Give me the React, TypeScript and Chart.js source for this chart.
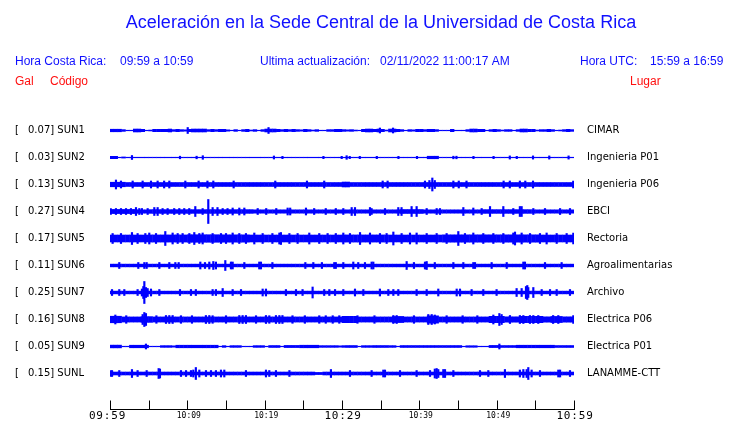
import React, { useEffect, useRef } from "react";
import { Chart, registerables } from "chart.js";

Chart.register(...registerables);

// ---------------- data ----------------
const STATIONS = ["SUN1", "SUN2", "SUN3", "SUN4", "SUN5", "SUN6", "SUN7", "SUN8", "SUN9", "SUNL"];
const PEAKS = ["0.07", "0.03", "0.13", "0.27", "0.17", "0.11", "0.25", "0.16", "0.05", "0.15"];
const PLACES = [
  "CIMAR", "Ingenieria P01", "Ingenieria P06", "EBCI", "Rectoria",
  "Agroalimentarias", "Archivo", "Electrica P06", "Electrica P01", "LANAMME-CTT",
];
const TICK_MINUTES = [0, 5, 10, 15, 20, 25, 30, 35, 40, 45, 50, 55, 60];
const TICK_LABELS = ["09:59", "", "10:09", "", "10:19", "", "10:29", "", "10:39", "", "10:49", "", "10:59"];
const MAJOR_LABELS = ["09:59", "10:29", "10:59"];

// envelope half-amplitude per 30 s bin (120 bins over 60 minutes)
const BAND_SUN1 = [
  1.6, 1.6, 1.6, 1.2, 0.6, 0.6, 1.8, 1.8, 1.5, 0.6, 0.8, 1.5, 1.5, 1.5, 1.5, 1.8, 1.2, 1.5, 1.2, 1.0,
  1.5, 1.8, 1.8, 1.8, 1.8, 1.2, 1.5, 1.2, 1.5, 1.5, 1.0, 0.6, 1.2, 0.6, 1.2, 1.5, 0.8, 1.2, 0.6, 1.2,
  1.8, 1.8, 1.8, 1.5, 1.2, 1.5, 1.2, 1.5, 1.2, 1.0, 1.5, 1.2, 0.8, 1.2, 0.6, 0.6, 1.2, 1.2, 1.5, 1.5,
  1.2, 1.0, 1.2, 0.8, 0.6, 1.5, 1.8, 1.8, 1.5, 1.8, 1.5, 0.8, 1.8, 1.8, 1.5, 1.2, 0.6, 1.2, 1.0, 1.5,
  1.5, 1.2, 1.5, 1.5, 1.2, 0.6, 0.6, 0.6, 1.5, 0.6, 0.6, 0.6, 1.2, 1.8, 1.8, 1.5, 1.5, 0.6, 1.2, 1.5,
  1.2, 0.8, 1.2, 1.2, 0.6, 1.2, 1.8, 1.8, 1.5, 1.5, 0.8, 1.2, 1.2, 1.5, 1.2, 0.6, 0.8, 1.2, 1.5, 1.2,
];
const BAND_SUN2 = [
  1.5, 1.5, 0.6, 0.9, 0.6, 0.6, 0.6, 0.6, 0.6, 0.6, 0.6, 0.6, 0.6, 0.6, 0.6, 0.6, 0.6, 0.6, 0.6, 0.6,
  0.6, 0.6, 0.6, 0.6, 0.6, 0.6, 0.6, 0.6, 0.6, 0.6, 0.6, 0.6, 0.6, 0.6, 0.6, 0.6, 0.6, 0.6, 0.6, 0.6,
  0.6, 0.6, 0.6, 0.6, 0.6, 0.6, 0.6, 0.6, 0.6, 0.6, 0.6, 0.6, 0.6, 0.6, 0.6, 0.6, 0.6, 0.6, 0.6, 0.6,
  0.6, 0.6, 0.6, 0.6, 0.6, 0.6, 0.6, 0.6, 0.6, 0.6, 0.6, 0.6, 0.6, 0.6, 0.6, 0.6, 0.6, 0.6, 0.6, 0.6,
  0.6, 0.6, 1.6, 1.6, 1.6, 0.6, 0.6, 0.6, 0.6, 0.6, 0.6, 0.6, 0.6, 0.6, 0.6, 0.6, 0.6, 0.6, 0.6, 0.6,
  0.6, 0.6, 0.6, 0.6, 0.6, 0.6, 0.6, 0.6, 0.6, 0.6, 0.6, 0.6, 0.6, 0.6, 0.6, 0.6, 0.6, 0.6, 0.6, 0.6,
];
const BAND_SUN3 = [
  2.6, 2.6, 2.6, 2.6, 2.3, 2.3, 2.3, 2.3, 2.3, 2.3, 2.3, 2.3, 2.3, 2.3, 2.3, 2.3, 2.3, 2.3, 2.3, 2.3,
  2.3, 2.3, 2.3, 2.3, 2.3, 2.3, 2.3, 2.3, 2.3, 2.3, 2.3, 2.3, 2.3, 2.3, 2.3, 2.3, 2.3, 2.3, 2.3, 2.3,
  2.3, 2.3, 2.3, 2.3, 2.3, 2.3, 2.3, 2.3, 2.3, 2.3, 2.3, 2.3, 2.3, 2.3, 2.3, 2.3, 2.3, 2.3, 2.3, 2.3,
  2.8, 2.8, 2.3, 2.3, 2.3, 2.3, 2.3, 2.3, 2.3, 2.3, 2.3, 2.3, 2.3, 2.3, 2.3, 2.3, 2.3, 2.3, 2.3, 2.3,
  2.3, 2.3, 2.3, 2.3, 2.3, 2.3, 2.3, 2.3, 2.3, 2.3, 2.3, 2.3, 2.3, 2.3, 2.3, 2.3, 2.3, 2.3, 2.3, 2.3,
  2.3, 2.3, 2.3, 2.3, 2.3, 2.3, 2.3, 2.3, 2.3, 2.3, 2.3, 2.3, 2.3, 2.3, 2.3, 2.3, 2.3, 2.3, 2.3, 2.3,
];
const BAND_SUN4 = [
  2.4, 2.4, 2.4, 2.4, 2.4, 2.4, 2.4, 2.0, 2.0, 2.0, 2.2, 2.2, 2.2, 2.2, 2.2, 2.2, 2.2, 2.2, 2.2, 2.2,
  2.2, 2.2, 2.2, 2.2, 2.2, 2.2, 2.2, 2.2, 2.2, 2.2, 2.2, 2.2, 2.2, 2.2, 2.2, 2.2, 2.2, 2.0, 2.0, 2.0,
  2.0, 2.0, 2.0, 2.0, 2.0, 2.0, 2.0, 2.0, 2.0, 2.0, 2.0, 2.0, 2.0, 2.0, 2.0, 2.0, 2.0, 2.0, 2.0, 2.0,
  2.0, 2.0, 2.0, 2.0, 2.0, 2.0, 2.0, 2.0, 2.0, 2.0, 2.0, 2.0, 2.0, 2.0, 2.0, 2.3, 2.3, 2.3, 2.3, 2.3,
  2.3, 2.0, 2.0, 2.0, 2.0, 2.0, 2.0, 2.0, 2.0, 2.0, 2.0, 2.0, 2.0, 2.0, 2.0, 2.0, 2.2, 2.2, 2.2, 2.2,
  2.2, 2.2, 2.2, 2.2, 2.2, 2.2, 2.2, 2.2, 2.2, 2.0, 2.0, 2.0, 2.0, 2.0, 2.0, 2.0, 2.0, 2.0, 2.0, 2.0,
];
const BAND_SUN5 = [
  3.8, 3.8, 3.8, 3.8, 3.8, 3.8, 3.8, 3.8, 3.8, 3.8, 3.9, 3.9, 3.9, 3.9, 3.9, 3.9, 3.9, 3.9, 3.9, 3.9,
  4.1, 4.1, 4.1, 4.1, 4.1, 4.1, 4.1, 4.1, 4.0, 4.0, 4.0, 4.0, 4.0, 4.0, 4.0, 4.0, 3.8, 3.8, 3.8, 3.8,
  3.8, 3.8, 3.8, 3.8, 3.8, 3.8, 3.8, 3.8, 3.8, 3.8, 3.8, 3.8, 3.8, 3.8, 3.8, 3.8, 3.8, 3.8, 3.8, 3.8,
  3.9, 3.9, 3.9, 3.9, 3.9, 3.9, 3.9, 3.9, 3.9, 3.9, 3.9, 3.8, 3.8, 3.8, 3.8, 3.8, 3.8, 3.8, 3.8, 3.8,
  3.8, 3.8, 3.8, 3.8, 3.8, 3.8, 4.0, 4.0, 4.0, 4.0, 4.0, 4.0, 4.0, 4.0, 4.0, 4.0, 4.0, 4.0, 4.0, 4.0,
  4.0, 4.0, 4.0, 4.0, 4.0, 4.0, 4.0, 4.0, 4.0, 4.0, 4.0, 3.8, 3.8, 3.8, 3.8, 3.8, 3.8, 3.8, 3.8, 3.8,
];
const BAND_SUN6 = [
  1.7, 1.7, 1.7, 1.7, 1.7, 1.7, 1.7, 1.7, 1.7, 1.7, 1.7, 1.7, 1.7, 1.7, 1.7, 1.7, 1.7, 1.7, 1.7, 1.7,
  1.7, 1.7, 1.7, 1.7, 1.7, 1.7, 1.7, 1.7, 1.7, 1.7, 1.7, 1.7, 1.7, 1.7, 1.7, 1.7, 1.7, 1.7, 1.7, 1.7,
  1.7, 1.7, 1.7, 1.7, 1.7, 1.7, 1.7, 1.7, 1.7, 1.7, 1.7, 1.7, 1.7, 1.7, 1.7, 1.7, 1.7, 1.7, 1.7, 1.7,
  1.7, 1.7, 1.7, 1.7, 1.7, 1.7, 1.7, 1.7, 1.7, 1.7, 1.7, 1.7, 1.7, 1.7, 1.7, 1.7, 1.7, 1.7, 1.7, 1.7,
  1.7, 1.7, 1.7, 1.7, 1.7, 1.7, 1.7, 1.7, 1.7, 1.7, 1.7, 1.7, 1.7, 1.7, 1.7, 1.7, 1.7, 1.7, 1.7, 1.7,
  1.7, 1.7, 1.7, 1.7, 1.7, 1.7, 1.7, 1.7, 1.7, 1.7, 1.7, 1.7, 1.7, 1.7, 1.7, 1.7, 1.7, 1.7, 1.7, 1.7,
];
const BAND_SUN7 = [
  1.7, 1.7, 1.7, 1.7, 1.7, 1.7, 1.7, 1.7, 1.7, 1.7, 1.7, 1.7, 1.7, 1.7, 1.7, 1.7, 1.7, 1.7, 1.7, 1.7,
  1.7, 1.7, 1.7, 1.7, 1.7, 1.7, 1.7, 1.7, 1.7, 1.7, 1.7, 1.7, 1.7, 1.7, 1.7, 1.7, 1.7, 1.7, 1.7, 1.7,
  1.7, 1.7, 1.7, 1.7, 1.7, 1.7, 1.7, 1.7, 1.7, 1.7, 1.7, 1.7, 1.7, 1.7, 1.7, 1.7, 1.7, 1.7, 1.7, 1.7,
  1.7, 1.7, 1.7, 1.7, 1.7, 1.7, 1.7, 1.7, 1.7, 1.7, 1.7, 1.7, 1.7, 1.7, 1.7, 1.7, 1.7, 1.7, 1.7, 1.7,
  1.7, 1.7, 1.7, 1.7, 1.7, 1.7, 1.7, 1.7, 1.7, 1.7, 1.7, 1.7, 1.7, 1.7, 1.7, 1.7, 1.7, 1.7, 1.7, 1.7,
  1.7, 1.7, 1.7, 1.7, 1.7, 1.7, 1.7, 1.7, 1.7, 1.7, 1.7, 1.7, 1.7, 1.7, 1.7, 1.7, 1.7, 1.7, 1.7, 1.7,
];
const BAND_SUN8 = [
  3.6, 3.6, 3.6, 2.9, 2.9, 2.9, 2.9, 2.9, 3.2, 3.2, 3.2, 2.9, 2.9, 2.9, 2.9, 2.9, 2.9, 2.9, 2.9, 2.9,
  2.9, 2.9, 2.9, 2.9, 2.9, 2.9, 2.9, 2.9, 2.9, 2.9, 2.9, 2.9, 2.9, 2.9, 2.9, 2.9, 2.9, 2.9, 2.9, 2.9,
  2.9, 2.9, 2.9, 2.9, 2.9, 2.9, 2.9, 2.9, 2.9, 2.9, 2.9, 2.9, 2.9, 2.9, 2.9, 2.9, 2.9, 2.9, 2.9, 2.9,
  3.5, 3.5, 3.5, 3.5, 2.9, 2.9, 2.9, 2.9, 2.9, 2.9, 2.9, 2.9, 2.9, 3.4, 3.4, 3.4, 2.9, 2.9, 2.9, 2.9,
  2.9, 2.9, 4.0, 4.0, 4.0, 2.9, 2.9, 2.9, 2.9, 2.9, 2.9, 2.9, 2.9, 2.9, 2.9, 2.9, 2.9, 2.9, 3.5, 3.5,
  3.5, 3.5, 3.0, 3.0, 3.0, 3.0, 3.5, 3.5, 3.5, 3.5, 3.5, 3.5, 3.0, 3.0, 3.4, 3.4, 3.4, 3.0, 3.0, 3.0,
];
const BAND_SUN9 = [
  1.7, 1.7, 1.7, 0.6, 0.6, 1.6, 1.6, 1.6, 1.6, 1.6, 0.6, 0.6, 0.6, 1.2, 1.2, 1.2, 1.0, 1.6, 1.6, 1.6,
  1.6, 1.6, 1.6, 1.6, 1.6, 1.6, 1.6, 1.6, 0.6, 1.2, 0.6, 1.2, 1.2, 1.2, 0.6, 0.6, 0.6, 1.2, 1.2, 1.2,
  0.6, 1.3, 1.3, 1.3, 0.6, 1.4, 1.4, 1.4, 1.4, 1.6, 1.6, 1.6, 1.6, 1.6, 1.2, 1.2, 1.2, 1.2, 1.2, 1.0,
  1.2, 1.3, 1.3, 1.3, 0.6, 1.2, 1.2, 1.2, 1.3, 1.3, 1.3, 1.3, 1.2, 1.2, 0.6, 1.3, 1.3, 1.3, 1.3, 1.3,
  1.3, 1.3, 1.3, 1.3, 1.3, 1.3, 1.3, 1.3, 1.3, 1.3, 1.3, 0.6, 1.1, 1.1, 1.1, 0.6, 0.6, 0.6, 1.4, 1.4,
  1.4, 1.3, 1.3, 1.3, 1.3, 1.6, 1.6, 1.6, 1.6, 1.6, 1.6, 1.6, 1.6, 1.6, 1.6, 1.3, 1.3, 1.3, 1.3, 1.3,
];
const BAND_SUNL = [
  1.8, 1.8, 1.8, 1.8, 1.8, 1.8, 1.8, 1.8, 1.8, 1.8, 1.8, 1.8, 1.8, 1.8, 1.8, 1.8, 1.8, 1.8, 1.8, 1.8,
  1.8, 1.8, 1.8, 1.8, 1.8, 1.8, 1.8, 1.8, 1.8, 1.8, 1.8, 1.8, 1.8, 1.8, 1.8, 1.8, 1.8, 1.8, 1.8, 1.8,
  1.8, 1.8, 1.8, 1.8, 1.8, 1.8, 1.8, 1.8, 1.8, 1.8, 1.8, 1.8, 1.8, 1.4, 1.4, 1.8, 1.8, 1.8, 1.8, 1.8,
  1.8, 1.8, 1.8, 1.8, 1.8, 1.8, 1.8, 1.8, 1.8, 1.8, 1.8, 1.8, 1.8, 1.8, 1.8, 1.8, 1.8, 1.8, 1.8, 1.8,
  1.8, 1.8, 1.8, 1.8, 1.8, 1.8, 1.8, 1.8, 1.8, 1.8, 1.8, 1.8, 1.8, 1.8, 1.8, 1.8, 1.8, 1.8, 1.8, 1.8,
  1.8, 1.8, 1.8, 1.8, 1.8, 1.8, 1.8, 1.8, 1.8, 1.8, 1.8, 1.8, 1.8, 1.8, 1.8, 1.8, 1.8, 1.8, 1.8, 1.8,
];

// individual spikes: [minute after 09:59, half-amplitude]
const SPIKES_SUN1 = [[10.05, 3], [20.5, 3], [34.9, 2.5], [36.6, 2.5]];
const SPIKES_SUN2 = [
  [2.84, 2], [9.05, 1.3], [11.2, 1.3], [12.0, 1.8], [21.2, 1.5], [22.3, 1.2], [27.6, 1.2],
  [29.96, 1.2], [30.6, 1.8], [31.0, 1.2], [32.3, 1.2], [34.5, 1.2], [37.3, 1.2], [39.7, 1.2],
  [44.4, 1.3], [44.8, 1.3], [47.0, 1.2], [49.6, 1.2], [51.7, 1.6], [52.6, 1.2], [54.7, 1.6],
  [56.8, 1.6], [59.3, 1.6],
];
const SPIKES_SUN3 = [
  [0.77, 4.5], [1.42, 3.5], [2.93, 3.5], [4.22, 3.5], [5.3, 3.5], [6.16, 3.5], [7.0, 3.5],
  [7.67, 3.5], [9.74, 3.5], [11.46, 3.5], [12.6, 3.5], [13.36, 3.5], [15.99, 3.5], [21.37, 3.5],
  [25.47, 3.5], [27.7, 3.5], [35.26, 3.5], [35.9, 3.5], [40.73, 3.5], [41.3, 4], [41.68, 6.5],
  [42.0, 4], [44.4, 3.5], [45.1, 3.5], [46.1, 3.5], [50.9, 3.5], [51.7, 3.5], [53.0, 3.5],
  [53.7, 3.5], [54.7, 3.5], [59.9, 3.5],
];
const SPIKES_SUN4 = [
  [0.1, 3], [0.77, 3], [1.42, 3], [2.07, 3], [2.71, 3], [3.36, 4], [3.79, 3], [4.13, 3],
  [4.87, 3], [5.73, 4], [6.16, 4], [6.8, 3], [7.45, 3], [8.3, 3], [8.96, 3], [9.6, 3],
  [10.25, 3], [11.03, 5], [11.98, 3], [12.71, 12], [13.27, 4], [13.9, 4], [14.57, 3],
  [15.2, 3], [15.86, 3.5], [16.72, 3.5], [17.37, 3.5], [19.1, 3], [20.2, 3], [21.5, 3],
  [22.97, 3.5], [23.3, 3.5], [25.34, 3.5], [26.4, 3], [27.9, 3], [29.2, 3],
  [30.17, 3], [31.25, 4], [31.68, 4], [33.62, 4], [33.83, 3], [35.56, 3], [37.28, 4],
  [37.7, 4], [39.0, 5], [39.65, 5], [40.95, 3], [42.24, 3], [42.67, 3], [45.69, 4],
  [46.98, 3.5], [48.06, 3], [49.14, 5], [50.86, 5], [52.15, 3], [53.0, 5], [53.23, 5],
  [54.74, 3], [56.25, 3], [58.2, 3], [59.48, 3],
];
const SPIKES_SUN5 = [
  [0.34, 5], [1.42, 5], [2.84, 6], [3.57, 5], [4.57, 5], [5.08, 5.5], [5.95, 5],
  [7.15, 7], [8.1, 5.5], [8.75, 5], [9.39, 5], [10.26, 5], [10.9, 6], [11.55, 5],
  [11.98, 5.5], [13.27, 5], [14.35, 5], [15.0, 5], [15.86, 5.5], [16.72, 5], [17.58, 5],
  [18.66, 5.5], [19.74, 5], [21.0, 5], [21.9, 5.5], [22.1, 6], [23.2, 5], [24.26, 5],
  [25.77, 5.5], [27.06, 5], [28.14, 5], [29.2, 5],
  [30.17, 5.5], [31.03, 5], [32.33, 6], [33.62, 5.5], [34.91, 5], [35.77, 5], [36.64, 6.5],
  [37.71, 5], [38.79, 5.5], [39.65, 5.5], [40.95, 5], [42.24, 5], [43.53, 5],
  [45.04, 7], [45.9, 5], [46.98, 5.5], [48.27, 5], [49.57, 5], [50.86, 5], [52.15, 5.5],
  [52.37, 6.5], [53.23, 5.5], [54.31, 5], [55.6, 5], [56.46, 5.5], [57.76, 5], [59.05, 5],
  [59.91, 5.5],
];
const SPIKES_SUN6 = [
  [1.2, 3], [3.66, 3], [4.44, 3], [4.74, 3], [6.38, 3], [7.67, 3], [8.45, 3], [8.88, 3],
  [11.68, 3.5], [12.28, 3], [12.84, 3.5], [13.36, 4], [13.7, 3.5], [14.91, 5], [15.64, 3.5],
  [15.86, 3.5], [17.37, 3], [19.3, 3.5], [19.52, 3.5], [21.0, 3], [25.26, 3], [26.29, 3],
  [27.4, 3], [29.0, 3], [29.2, 3],
  [30.17, 3], [31.46, 3.5], [32.1, 3], [32.97, 3], [33.83, 3.5], [34.05, 3.5], [38.36, 4],
  [39.3, 3], [40.73, 3.5], [40.95, 4], [42.0, 3], [44.4, 3], [45.69, 3], [46.98, 3], [47.2, 3],
  [49.35, 3], [51.3, 3], [53.45, 3.5], [53.66, 3.5], [56.25, 3], [58.4, 3],
];
const SPIKES_SUN7 = [
  [0.26, 3], [1.2, 3], [1.85, 3], [3.57, 3], [4.13, 3.5], [4.31, 6], [4.44, 11], [4.65, 5],
  [4.87, 4], [5.3, 3.5], [6.38, 3], [9.05, 3], [10.47, 3], [11.1, 3], [13.27, 3], [13.7, 3],
  [14.57, 4], [15.86, 3], [16.94, 3], [19.74, 3.5], [20.17, 3.5], [22.75, 3], [24.05, 3],
  [24.9, 3], [26.2, 5.5], [27.7, 3], [28.36, 3], [29.1, 3],
  [30.17, 3], [31.68, 3.5], [32.76, 3], [34.9, 3.5], [35.99, 3], [36.64, 3], [37.28, 3],
  [39.65, 3], [40.95, 3], [42.45, 3.5], [44.83, 3.5], [45.26, 3.5], [46.76, 3], [48.27, 3],
  [49.99, 3], [52.58, 4], [53.23, 4], [53.79, 6], [53.96, 7], [54.09, 5], [54.74, 5],
  [55.82, 3], [56.9, 3], [57.76, 3], [59.48, 3],
];
const SPIKES_SUN8 = [
  [0.69, 4.5], [2.1, 3.8], [4.22, 5], [4.44, 7], [4.65, 6], [6.0, 3.8], [7.24, 4], [7.67, 4],
  [8.1, 4], [9.18, 3.8], [10.6, 3.8], [12.4, 4], [12.84, 4], [13.27, 3.8], [15.0, 3.8],
  [16.72, 4], [17.15, 4], [17.58, 4], [18.88, 3.8], [20.17, 4], [20.6, 3.8], [21.46, 4],
  [21.9, 4], [22.3, 4], [23.6, 3.8], [25.2, 3.8], [27.06, 3.8], [27.9, 3.8], [28.8, 3.8],
  [29.65, 3.8], [32.0, 3.8], [34.2, 3.8],
  [36.64, 4], [37.07, 4], [39.3, 3.8], [41.16, 5], [41.6, 5], [42.0, 4.5], [43.53, 3.8],
  [45.6, 3.8], [47.5, 3.8], [49.57, 4.5], [50.35, 6], [50.64, 5], [51.72, 4], [53.0, 4],
  [53.45, 4], [54.3, 4], [54.74, 4], [55.38, 4], [57.3, 4], [57.97, 4], [59.91, 3.8],
];
const SPIKES_SUN9 = [[4.65, 2.5], [50.35, 2.5]];
const SPIKES_SUNL = [
  [0.05, 3], [0.26, 3], [1.2, 3], [2.84, 4], [3.57, 3], [4.74, 3], [6.29, 5], [6.46, 4.5],
  [9.18, 3], [9.83, 3], [10.47, 3], [10.77, 3.5], [11.1, 6], [11.55, 3.5], [12.41, 3],
  [13.06, 3], [13.7, 3], [14.35, 3.5], [14.78, 3.5], [17.58, 3], [20.17, 3.5], [20.6, 3],
  [21.46, 3], [23.2, 3], [28.57, 4],
  [31.03, 3], [33.83, 3], [35.34, 3.5], [35.56, 3.5], [37.5, 3], [39.65, 3], [41.38, 3],
  [42.0, 4.5], [42.24, 5], [42.45, 4], [43.1, 4], [43.32, 4], [44.4, 3], [47.84, 3],
  [48.92, 3], [51.07, 4], [53.0, 3.5], [53.45, 4], [53.88, 4], [54.09, 6], [54.52, 3.5],
  [55.6, 3], [57.97, 3.5], [58.2, 3.5], [59.48, 3],
];

const BANDS = [BAND_SUN1, BAND_SUN2, BAND_SUN3, BAND_SUN4, BAND_SUN5, BAND_SUN6, BAND_SUN7, BAND_SUN8, BAND_SUN9, BAND_SUNL];
const SPIKES = [SPIKES_SUN1, SPIKES_SUN2, SPIKES_SUN3, SPIKES_SUN4, SPIKES_SUN5, SPIKES_SUN6, SPIKES_SUN7, SPIKES_SUN8, SPIKES_SUN9, SPIKES_SUNL];

// ---------------- layout / style ----------------
const BLUE = "#0000ff";
const TEXT_BLUE = "#1010ff";
const RED = "#ff1010";
const BIN_MIN = 0.5;
const ROW_GAP = 27;
const ROW_BASE = 35.5;
const rowCenter = (i: number) => ROW_BASE + ROW_GAP * (STATIONS.length - 1 - i);

const overlay = {
  id: "overlay",
  afterDraw(chart: any) {
    const ctx = chart.ctx as CanvasRenderingContext2D;
    const xs = chart.scales.x;
    const ys = chart.scales.y;
    const area = chart.chartArea;
    ctx.save();

    // title
    ctx.fillStyle = TEXT_BLUE;
    ctx.textBaseline = "alphabetic";
    ctx.textAlign = "center";
    ctx.font = "18px 'Liberation Sans', Arial, sans-serif";
    ctx.fillText("Aceleración en la Sede Central de la Universidad de Costa Rica", 381, 28);

    // header rows
    ctx.textAlign = "left";
    ctx.font = "12px 'Liberation Sans', Arial, sans-serif";
    ctx.fillText("Hora Costa Rica:", 15, 65);
    ctx.fillText("09:59 a 10:59", 120, 65);
    ctx.fillText("Ultima actualización:", 260, 65);
    ctx.fillText("02/11/2022 11:00:17 AM", 380, 65);
    ctx.fillText("Hora UTC:", 580, 65);
    ctx.fillText("15:59 a 16:59", 650, 65);
    ctx.fillStyle = RED;
    ctx.fillText("Gal", 15, 84.5);
    ctx.fillText("Código", 50, 84.5);
    ctx.fillText("Lugar", 630, 84.5);

    // station labels
    ctx.fillStyle = "#000";
    ctx.font = "10px 'DejaVu Sans', sans-serif";
    ctx.textBaseline = "middle";
    STATIONS.forEach((s, i) => {
      const y = ys.getPixelForValue(rowCenter(i));
      ctx.textAlign = "left";
      ctx.fillText("[", 15, y);
      ctx.fillText(PEAKS[i] + "] " + s, 28, y);
      ctx.fillText(PLACES[i], 587, y);
    });

    // time axis
    ctx.strokeStyle = "#000";
    ctx.lineWidth = 1;
    const by = Math.round(area.bottom) + 0.5;
    ctx.beginPath();
    ctx.moveTo(xs.getPixelForValue(0), by);
    ctx.lineTo(xs.getPixelForValue(60) + 1, by);
    TICK_MINUTES.forEach((m) => {
      const px = Math.round(xs.getPixelForValue(m)) + 0.5;
      ctx.moveTo(px, by);
      ctx.lineTo(px, by - 9);
    });
    ctx.stroke();

    ctx.textAlign = "center";
    ctx.textBaseline = "middle";
    TICK_MINUTES.forEach((m, k) => {
      const lab = TICK_LABELS[k];
      if (!lab) return;
      const px = xs.getPixelForValue(m);
      if (MAJOR_LABELS.includes(lab)) {
        ctx.font = "11px 'DejaVu Sans Mono', monospace";
        (ctx as any).letterSpacing = "0.8px";
        ctx.fillText(lab, k === 0 ? px - 2.5 : px + 1, 416);
      } else {
        ctx.font = "8px 'DejaVu Sans Mono', monospace";
        (ctx as any).letterSpacing = "0px";
        ctx.fillText(lab, px + 1.5, 416);
      }
    });
    (ctx as any).letterSpacing = "0px";
    ctx.restore();
  },
};

export default function App() {
  const ref = useRef<HTMLCanvasElement | null>(null);

  useEffect(() => {
    if (!ref.current) return;
    const datasets: any[] = [];
    STATIONS.forEach((s, i) => {
      const c = rowCenter(i);
      datasets.push({
        type: "bar",
        label: s,
        xAxisID: "x",
        data: BANDS[i].map((a, k) => ({ x: (k + 0.5) * BIN_MIN, y: [c - a, c + a] })),
        backgroundColor: BLUE,
        borderWidth: 0,
        grouped: false,
        barPercentage: 1.12,
        categoryPercentage: 1,
      });
      datasets.push({
        type: "bar",
        label: s + " picos",
        xAxisID: "x2",
        data: SPIKES[i].map(([m, a]) => ({ x: m, y: [c - a, c + a] })),
        backgroundColor: BLUE,
        borderWidth: 0,
        grouped: false,
        barThickness: 1.5,
      });
    });

    const chart = new Chart(ref.current, {
      type: "bar",
      data: { datasets },
      options: {
        animation: false,
        responsive: false,
        devicePixelRatio: 1,
        layout: { padding: { left: 110, right: 166, top: 103, bottom: 14 } },
        scales: {
          x: { type: "linear", min: 0, max: 60, offset: false, display: false },
          x2: { type: "linear", min: 0, max: 60, offset: false, display: false },
          y: { type: "linear", min: 0, max: 306, offset: false, display: false },
        },
        plugins: { legend: { display: false }, tooltip: { enabled: false }, title: { display: false } },
        events: [],
      },
      plugins: [overlay],
    });
    return () => chart.destroy();
  }, []);

  return (
    <div style={{ position: "absolute", left: 0, top: 0, width: 740, height: 423, background: "#fff" }}>
      <canvas ref={ref} width={740} height={423} style={{ width: 740, height: 423, display: "block" }} />
    </div>
  );
}
